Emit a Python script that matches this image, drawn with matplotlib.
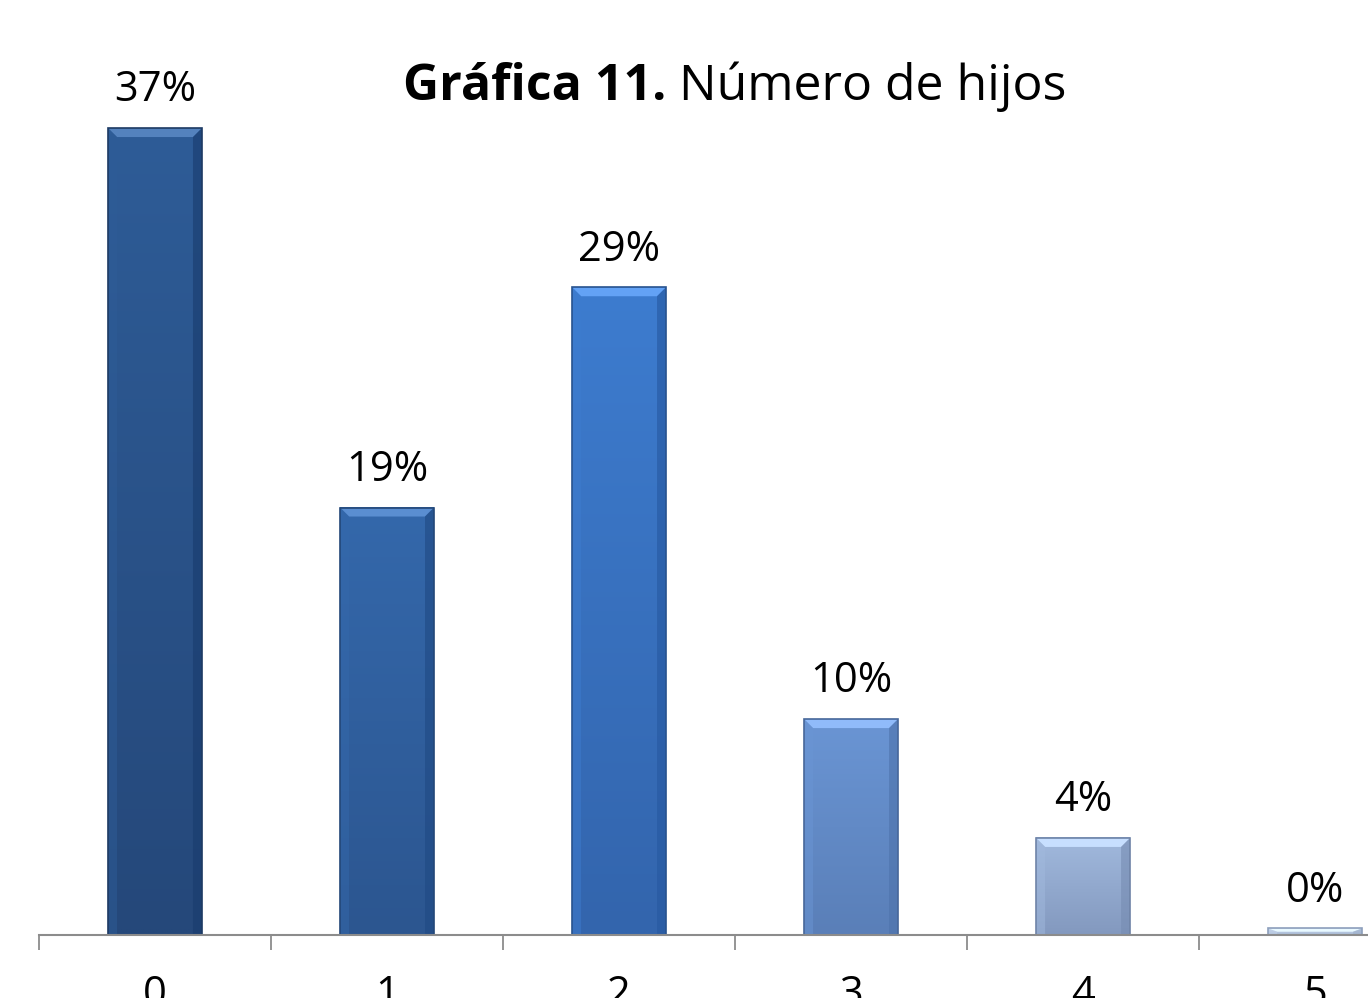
import numpy as np
import matplotlib
import matplotlib.pyplot as plt
from matplotlib.colors import to_rgb
from matplotlib.patches import Polygon, Rectangle

matplotlib.use('Agg')

plt.rcParams['font.family'] = ['Open Sans', 'DejaVu Sans']

# Chart data
categories = ['0', '1', '2', '3', '4', '5']
values = [37.0, 19.6, 29.7, 9.9, 4.45, 0.3]
value_labels = ['37%', '19%', '29%', '10%', '4%', '0%']

# Bar colours (top, bottom) going from dark navy to pale blue
top_colors = ['#2e5c97', '#3468ab', '#3d7ccf', '#6a95d4', '#a1b9dd', '#c3d3ea']
bottom_colors = ['#25487a', '#2c5690', '#3365ad', '#5a7fb8', '#8399bf', '#a9bbd6']
edge_colors = ['#1d3a63', '#234778', '#28538f', '#47679a', '#6f84a8', '#8d9fbc']

fig = plt.figure(figsize=(13.68, 9.98), dpi=100)
ax = fig.add_axes([39 / 1368, 63 / 998, 1 - 39 / 1368, 935 / 998])

x = np.arange(len(categories))
width = 0.405
xmin, xmax = -0.5, 5.228
ymax = 42.87

px_x = 232.0  # pixels per category unit
px_y = 935 / ymax  # pixels per percent
bev_x = 9 / px_x
bev_y = 9 / px_y

for i, v in enumerate(values):
    x0, x1 = x[i] - width / 2, x[i] + width / 2
    c_top = np.array(to_rgb(top_colors[i]))
    c_bot = np.array(to_rgb(bottom_colors[i]))
    t = np.linspace(0, 1, 64)[:, None]
    grad = (c_top * (1 - t) + c_bot * t)[:, None, :]
    ax.imshow(grad, extent=[x0, x1, 0, v], aspect='auto', zorder=2,
              interpolation='bilinear')

    # bevel: lighter top, darker sides
    by = min(bev_y, v * 0.5)
    light = np.clip(c_top + 0.15, 0, 1)
    dark = np.clip(c_bot - 0.05, 0, 1)
    ax.add_patch(Polygon([[x0, v], [x1, v], [x1 - bev_x, v - by], [x0 + bev_x, v - by]],
                         closed=True, facecolor=light, edgecolor='none', zorder=3))
    ax.add_patch(Polygon([[x0, 0], [x0, v], [x0 + bev_x, v - by], [x0 + bev_x, 0]],
                         closed=True, facecolor=c_top, edgecolor='none', alpha=0.5, zorder=3))
    ax.add_patch(Polygon([[x1, 0], [x1, v], [x1 - bev_x, v - by], [x1 - bev_x, 0]],
                         closed=True, facecolor=dark, edgecolor='none', alpha=0.6, zorder=3))
    ax.add_patch(Rectangle((x0, 0), width, v, facecolor='none',
                           edgecolor=edge_colors[i], linewidth=1.2, zorder=4))

    ax.annotate(value_labels[i], xy=(x[i], v), xytext=(0, 12), textcoords='offset points',
                ha='center', va='bottom', fontsize=30, color='black')

ax.set_xticks(x)
ax.set_xticklabels(categories, fontsize=30)
ax.set_xticks(np.arange(-0.5, 5.6, 1), minor=True)
ax.tick_params(axis='x', which='major', length=0, pad=28)
ax.tick_params(axis='x', which='minor', length=11, width=1.3, color='#8c8c8c')
ax.set_yticks([])
# limits after ticks, since set_xticks widens the view
ax.set_xlim(xmin, xmax)
ax.set_ylim(0, ymax)
for side in ['top', 'right', 'left']:
    ax.spines[side].set_visible(False)
ax.spines['bottom'].set_color('#8c8c8c')
ax.spines['bottom'].set_linewidth(1.5)
ax.spines['bottom'].set_zorder(5)

# Title in two parts: bold prefix + regular text
fig.canvas.draw()
renderer = fig.canvas.get_renderer()
t1 = fig.text(0, 0, 'Gráfica 11.', fontsize=36, fontweight='bold', va='baseline')
t2 = fig.text(0, 0, ' Número de hijos', fontsize=36, va='baseline')
w1 = t1.get_window_extent(renderer).width
w2 = t2.get_window_extent(renderer).width
total = w1 + w2
cx = 735
base_y = 998 - 100
start = cx - total / 2
t1.set_position((start / 1368, base_y / 998))
t2.set_position(((start + w1) / 1368, base_y / 998))

fig.savefig('out.png', dpi=100)
